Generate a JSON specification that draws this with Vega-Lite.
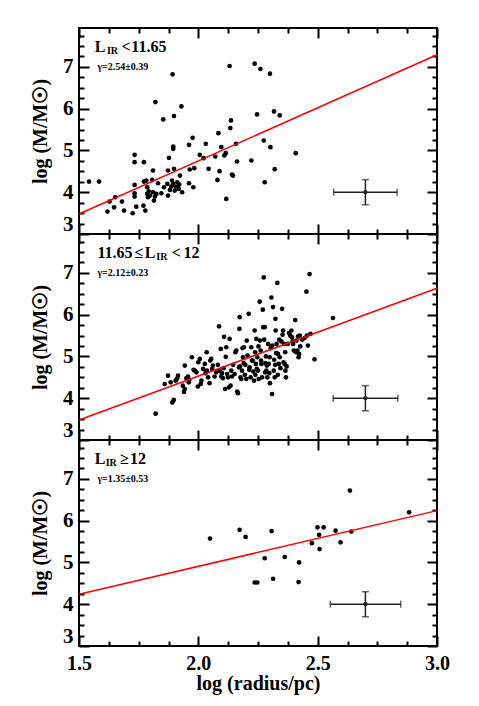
{
 "$schema": "https://vega.github.io/schema/vega-lite/v6.json",
 "padding": {"left": 29, "top": 26, "right": 5, "bottom": 5},
 "background": "white",
 "spacing": 0,
 "bounds": "flush",
 "config": {
   "view": {"stroke": "black", "strokeWidth": 2},
   "axis": {"domain": false, "grid": false, "tickColor": "black", "tickWidth": 2, "labelFont": "Liberation Serif", "labelFontWeight": "bold", "labelFontSize": 21, "labelColor": "black", "titleFont": "Liberation Serif", "titleFontWeight": "bold", "titleFontSize": 20, "titleColor": "black"},
   "axisTop": {"minExtent": 0, "maxExtent": 0},
   "axisRight": {"minExtent": 0, "maxExtent": 0},
   "text": {"font": "Liberation Serif", "fontWeight": "bold", "color": "black"}
 },
 "datasets": {
  "top_pts": [
   {"x":1.542,"y":4.255},{"x":1.584,"y":4.255},{"x":1.619,"y":3.536},{"x":1.628,"y":3.775},{"x":1.647,"y":3.639},{"x":1.652,"y":3.879},{"x":1.680,"y":3.775},{"x":1.689,"y":3.560},{"x":1.725,"y":3.496},{"x":1.740,"y":3.655},{"x":1.733,"y":4.894},{"x":1.733,"y":4.719},{"x":1.733,"y":4.175},{"x":1.733,"y":3.975},{"x":1.733,"y":3.895},{"x":1.770,"y":3.679},{"x":1.778,"y":3.560},{"x":1.772,"y":4.719},{"x":1.772,"y":4.255},{"x":1.782,"y":4.279},{"x":1.786,"y":4.119},{"x":1.786,"y":3.959},{"x":1.789,"y":3.879},{"x":1.792,"y":4.023},{"x":1.797,"y":3.919},{"x":1.810,"y":4.519},{"x":1.807,"y":4.295},{"x":1.810,"y":3.999},{"x":1.814,"y":3.799},{"x":1.818,"y":3.895},{"x":1.824,"y":3.959},{"x":1.820,"y":6.157},{"x":1.831,"y":4.215},{"x":1.845,"y":3.975},{"x":1.853,"y":5.742},{"x":1.856,"y":4.119},{"x":1.870,"y":4.199},{"x":1.873,"y":4.519},{"x":1.877,"y":4.823},{"x":1.873,"y":3.919},{"x":1.881,"y":4.055},{"x":1.887,"y":4.135},{"x":1.890,"y":4.279},{"x":1.892,"y":6.821},{"x":1.895,"y":5.038},{"x":1.895,"y":5.094},{"x":1.898,"y":4.559},{"x":1.898,"y":5.822},{"x":1.894,"y":4.199},{"x":1.901,"y":4.039},{"x":1.906,"y":4.135},{"x":1.912,"y":4.239},{"x":1.918,"y":4.079},{"x":1.920,"y":4.183},{"x":1.923,"y":4.399},{"x":1.929,"y":6.054},{"x":1.932,"y":3.999},{"x":1.961,"y":5.134},{"x":1.964,"y":4.543},{"x":1.961,"y":4.215},{"x":1.976,"y":5.302},{"x":1.979,"y":4.119},{"x":1.983,"y":4.575},{"x":2.006,"y":4.894},{"x":2.022,"y":4.815},{"x":2.031,"y":5.158},{"x":2.043,"y":4.559},{"x":2.071,"y":4.855},{"x":2.080,"y":4.295},{"x":2.084,"y":5.414},{"x":2.089,"y":4.503},{"x":2.096,"y":5.078},{"x":2.109,"y":4.878},{"x":2.115,"y":4.934},{"x":2.117,"y":3.839},{"x":2.131,"y":7.021},{"x":2.134,"y":5.534},{"x":2.137,"y":5.718},{"x":2.141,"y":4.423},{"x":2.145,"y":4.399},{"x":2.158,"y":5.158},{"x":2.162,"y":4.735},{"x":2.222,"y":4.759},{"x":2.236,"y":7.077},{"x":2.246,"y":5.862},{"x":2.260,"y":6.949},{"x":2.274,"y":5.238},{"x":2.278,"y":4.239},{"x":2.300,"y":6.837},{"x":2.302,"y":5.078},{"x":2.317,"y":5.934},{"x":2.320,"y":4.551},{"x":2.341,"y":5.838},{"x":2.408,"y":4.934}
  ],
  "mid_pts": [
   {"x":1.821,"y":3.63},{"x":1.859,"y":4.34},{"x":1.873,"y":4.54},{"x":1.884,"y":4.38},{"x":1.891,"y":3.90},{"x":1.897,"y":3.96},{"x":1.905,"y":4.42},{"x":1.911,"y":4.47},{"x":1.915,"y":4.54},{"x":1.935,"y":4.30},{"x":1.940,"y":4.15},{"x":1.943,"y":4.22},{"x":1.943,"y":4.78},{"x":1.950,"y":4.48},{"x":1.957,"y":4.52},{"x":1.960,"y":4.38},{"x":1.962,"y":4.44},{"x":1.973,"y":4.98},{"x":1.980,"y":4.68},{"x":1.985,"y":4.66},{"x":1.992,"y":4.62},{"x":1.998,"y":4.28},{"x":2.000,"y":4.86},{"x":2.006,"y":4.94},{"x":2.010,"y":4.34},{"x":2.013,"y":4.42},{"x":2.020,"y":4.70},{"x":2.027,"y":4.82},{"x":2.030,"y":4.60},{"x":2.035,"y":5.10},{"x":2.036,"y":4.66},{"x":2.041,"y":4.50},{"x":2.047,"y":4.36},{"x":2.050,"y":4.90},{"x":2.054,"y":4.94},{"x":2.058,"y":4.70},{"x":2.061,"y":4.78},{"x":2.068,"y":4.52},{"x":2.075,"y":4.62},{"x":2.082,"y":4.80},{"x":2.087,"y":5.72},{"x":2.090,"y":4.66},{"x":2.094,"y":5.18},{"x":2.096,"y":4.52},{"x":2.099,"y":4.60},{"x":2.103,"y":4.48},{"x":2.106,"y":4.72},{"x":2.108,"y":5.47},{"x":2.112,"y":4.22},{"x":2.115,"y":4.99},{"x":2.117,"y":5.22},{"x":2.121,"y":4.58},{"x":2.124,"y":4.50},{"x":2.128,"y":4.26},{"x":2.131,"y":5.42},{"x":2.135,"y":4.30},{"x":2.138,"y":4.66},{"x":2.141,"y":4.52},{"x":2.146,"y":4.80},{"x":2.152,"y":4.58},{"x":2.155,"y":5.10},{"x":2.159,"y":5.14},{"x":2.163,"y":4.16},{"x":2.166,"y":4.12},{"x":2.170,"y":4.74},{"x":2.172,"y":5.66},{"x":2.173,"y":5.94},{"x":2.175,"y":4.76},{"x":2.177,"y":4.50},{"x":2.180,"y":4.46},{"x":2.183,"y":4.66},{"x":2.185,"y":5.20},{"x":2.187,"y":4.98},{"x":2.190,"y":4.84},{"x":2.191,"y":5.22},{"x":2.195,"y":4.56},{"x":2.197,"y":4.80},{"x":2.201,"y":4.46},{"x":2.203,"y":5.38},{"x":2.206,"y":5.02},{"x":2.211,"y":6.02},{"x":2.213,"y":4.68},{"x":2.215,"y":4.74},{"x":2.219,"y":4.50},{"x":2.222,"y":5.22},{"x":2.225,"y":4.90},{"x":2.228,"y":4.90},{"x":2.230,"y":4.64},{"x":2.233,"y":4.42},{"x":2.236,"y":5.62},{"x":2.238,"y":5.10},{"x":2.239,"y":4.56},{"x":2.241,"y":4.82},{"x":2.243,"y":5.42},{"x":2.245,"y":4.70},{"x":2.247,"y":4.98},{"x":2.250,"y":4.66},{"x":2.252,"y":5.24},{"x":2.253,"y":4.46},{"x":2.257,"y":6.31},{"x":2.258,"y":5.38},{"x":2.261,"y":5.14},{"x":2.263,"y":4.90},{"x":2.264,"y":4.82},{"x":2.267,"y":4.50},{"x":2.270,"y":6.12},{"x":2.272,"y":5.70},{"x":2.274,"y":6.89},{"x":2.276,"y":5.40},{"x":2.278,"y":5.70},{"x":2.280,"y":4.62},{"x":2.281,"y":4.84},{"x":2.283,"y":5.00},{"x":2.285,"y":4.66},{"x":2.287,"y":4.78},{"x":2.289,"y":4.50},{"x":2.292,"y":5.30},{"x":2.295,"y":4.82},{"x":2.297,"y":4.60},{"x":2.299,"y":4.98},{"x":2.300,"y":4.36},{"x":2.303,"y":5.20},{"x":2.306,"y":6.41},{"x":2.309,"y":4.10},{"x":2.310,"y":5.26},{"x":2.313,"y":6.18},{"x":2.316,"y":4.66},{"x":2.318,"y":4.92},{"x":2.320,"y":4.50},{"x":2.322,"y":4.80},{"x":2.323,"y":5.90},{"x":2.324,"y":5.62},{"x":2.326,"y":5.08},{"x":2.328,"y":5.30},{"x":2.331,"y":6.76},{"x":2.333,"y":4.56},{"x":2.334,"y":5.06},{"x":2.337,"y":4.82},{"x":2.339,"y":5.40},{"x":2.341,"y":4.98},{"x":2.344,"y":4.72},{"x":2.348,"y":5.36},{"x":2.351,"y":6.14},{"x":2.353,"y":5.52},{"x":2.355,"y":5.62},{"x":2.357,"y":4.86},{"x":2.359,"y":5.30},{"x":2.362,"y":4.82},{"x":2.364,"y":5.10},{"x":2.365,"y":4.66},{"x":2.367,"y":4.50},{"x":2.370,"y":4.76},{"x":2.375,"y":5.30},{"x":2.380,"y":5.56},{"x":2.385,"y":5.50},{"x":2.390,"y":5.62},{"x":2.392,"y":5.46},{"x":2.395,"y":5.36},{"x":2.397,"y":5.30},{"x":2.400,"y":5.14},{"x":2.406,"y":5.87},{"x":2.410,"y":5.10},{"x":2.411,"y":5.38},{"x":2.415,"y":5.14},{"x":2.418,"y":5.48},{"x":2.420,"y":4.98},{"x":2.422,"y":5.06},{"x":2.425,"y":5.50},{"x":2.427,"y":5.24},{"x":2.435,"y":5.40},{"x":2.445,"y":5.44},{"x":2.453,"y":6.55},{"x":2.455,"y":5.50},{"x":2.459,"y":5.26},{"x":2.466,"y":6.97},{"x":2.470,"y":5.54},{"x":2.487,"y":4.93},{"x":2.564,"y":5.92}
  ],
  "bot_pts": [
   {"x":2.049,"y":5.57},{"x":2.173,"y":5.78},{"x":2.198,"y":5.61},{"x":2.236,"y":4.52},{"x":2.247,"y":4.52},{"x":2.278,"y":5.10},{"x":2.307,"y":5.75},{"x":2.313,"y":4.61},{"x":2.362,"y":5.13},{"x":2.422,"y":5.00},{"x":2.420,"y":4.53},{"x":2.476,"y":5.46},{"x":2.499,"y":5.84},{"x":2.506,"y":5.66},{"x":2.508,"y":5.32},{"x":2.525,"y":5.84},{"x":2.575,"y":5.76},{"x":2.596,"y":5.48},{"x":2.635,"y":6.72},{"x":2.641,"y":5.74},{"x":2.883,"y":6.20}
  ],
  "top_fit": [{"x":1.5,"y":3.48},{"x":3.0,"y":7.29}],
  "mid_fit": [{"x":1.5,"y":3.48},{"x":3.0,"y":6.63}],
  "bot_fit": [{"x":1.5,"y":4.24},{"x":3.0,"y":6.24}],
  "top_err": [{"x":2.7,"y":4.0,"xlo":2.567,"xhi":2.833,"ylo":3.7,"yhi":4.3}],
  "mid_err": [{"x":2.7,"y":4.0,"xlo":2.565,"xhi":2.836,"ylo":3.7,"yhi":4.3}],
  "bot_err": [{"x":2.7,"y":4.0,"xlo":2.553,"xhi":2.848,"ylo":3.7,"yhi":4.3}],
  "top_txt": [
   {"x":1.566,"y":7.36,"text":"L","kind":"main"},{"x":1.617,"y":7.31,"text":"IR","kind":"sub"},{"x":1.678,"y":7.36,"text":"<","kind":"main"},{"x":1.719,"y":7.36,"text":"11.65","kind":"main"},{"x":1.577,"y":6.92,"text":"γ=2.54±0.39","kind":"gamma"}
  ],
  "mid_txt": [
   {"x":1.577,"y":7.36,"text":"11.65","kind":"main"},{"x":1.733,"y":7.36,"text":"≤","kind":"main"},{"x":1.776,"y":7.36,"text":"L","kind":"main"},{"x":1.824,"y":7.31,"text":"IR","kind":"sub"},{"x":1.889,"y":7.36,"text":"<","kind":"main"},{"x":1.938,"y":7.36,"text":"12","kind":"main"},{"x":1.577,"y":6.92,"text":"γ=2.12±0.23","kind":"gamma"}
  ],
  "bot_txt": [
   {"x":1.566,"y":7.36,"text":"L","kind":"main"},{"x":1.612,"y":7.31,"text":"IR","kind":"sub"},{"x":1.672,"y":7.36,"text":"≥","kind":"main"},{"x":1.714,"y":7.36,"text":"12","kind":"main"},{"x":1.577,"y":6.92,"text":"γ=1.35±0.53","kind":"gamma"}
  ]
 },
 "vconcat": [
  {
   "width": 358, "height": 206,
   "resolve": {"axis": {"x": "independent", "y": "independent"}},
   "layer": [
    {"data": {"name": "top_pts"}, "mark": {"type": "circle", "size": 22, "opacity": 1, "color": "black"},
     "encoding": {
      "x": {"field": "x", "type": "quantitative", "scale": {"domain": [1.5, 3.0], "zero": false, "nice": false}, "axis": {"orient": "bottom", "values": [1.5, 2, 2.5, 3], "tickSize": -10, "labels": false, "title": null, "minExtent": 0, "maxExtent": 0}},
      "y": {"field": "y", "type": "quantitative", "scale": {"domain": [3, 7.93], "zero": false, "nice": false}, "axis": {"orient": "left", "values": [3, 4, 5, 6, 7], "format": "d", "tickSize": -10, "labelPadding": 16, "labelFlush": true, "title": "log (M/M☉)", "titlePadding": 12}}
     }},
    {"data": {"name": "top_fit"}, "mark": {"type": "line", "color": "red", "strokeWidth": 1.5},
     "encoding": {
      "x": {"field": "x", "type": "quantitative", "scale": {"domain": [1.5, 3.0], "zero": false, "nice": false}, "axis": {"orient": "bottom", "values": [1.625, 1.75, 1.875, 2.125, 2.25, 2.375, 2.625, 2.75, 2.875], "tickSize": -5, "labels": false, "title": null, "minExtent": 0, "maxExtent": 0}},
      "y": {"field": "y", "type": "quantitative", "scale": {"domain": [3, 7.93], "zero": false, "nice": false}, "axis": {"orient": "left", "values": [3.25, 3.5, 3.75, 4.25, 4.5, 4.75, 5.25, 5.5, 5.75, 6.25, 6.5, 6.75, 7.25, 7.5, 7.75], "tickSize": -5, "labels": false, "title": null, "minExtent": 0, "maxExtent": 0}}
     }},
    {"data": {"name": "top_err"}, "mark": {"type": "rule", "color": "#222222", "strokeWidth": 1.5},
     "encoding": {
      "x": {"field": "xlo", "type": "quantitative", "scale": {"domain": [1.5, 3.0], "zero": false, "nice": false}, "axis": {"orient": "top", "values": [1.5, 2, 2.5, 3], "tickSize": -10, "labels": false, "title": null}},
      "x2": {"field": "xhi"},
      "y": {"field": "y", "type": "quantitative", "scale": {"domain": [3, 7.93], "zero": false, "nice": false}, "axis": {"orient": "right", "values": [3, 4, 5, 6, 7], "tickSize": -10, "labels": false, "title": null}}
     }},
    {"data": {"name": "top_err"}, "mark": {"type": "rule", "color": "#222222", "strokeWidth": 1.5},
     "encoding": {
      "x": {"field": "x", "type": "quantitative", "scale": {"domain": [1.5, 3.0], "zero": false, "nice": false}, "axis": {"orient": "top", "values": [1.625, 1.75, 1.875, 2.125, 2.25, 2.375, 2.625, 2.75, 2.875], "tickSize": -5, "labels": false, "title": null}},
      "y": {"field": "ylo", "type": "quantitative", "scale": {"domain": [3, 7.93], "zero": false, "nice": false}, "axis": {"orient": "right", "values": [3.25, 3.5, 3.75, 4.25, 4.5, 4.75, 5.25, 5.5, 5.75, 6.25, 6.5, 6.75, 7.25, 7.5, 7.75], "tickSize": -5, "labels": false, "title": null}},
      "y2": {"field": "yhi"}
     }},
    {"data": {"name": "top_err"}, "mark": {"type": "tick", "orient": "vertical", "color": "#222222", "size": 7, "thickness": 1.5},
     "encoding": {"x": {"field": "xlo", "type": "quantitative", "axis": null}, "y": {"field": "y", "type": "quantitative", "axis": null}}},
    {"data": {"name": "top_err"}, "mark": {"type": "tick", "orient": "vertical", "color": "#222222", "size": 7, "thickness": 1.5},
     "encoding": {"x": {"field": "xhi", "type": "quantitative", "axis": null}, "y": {"field": "y", "type": "quantitative", "axis": null}}},
    {"data": {"name": "top_err"}, "mark": {"type": "tick", "orient": "horizontal", "color": "#222222", "size": 7, "thickness": 1.5},
     "encoding": {"x": {"field": "x", "type": "quantitative", "axis": null}, "y": {"field": "ylo", "type": "quantitative", "axis": null}}},
    {"data": {"name": "top_err"}, "mark": {"type": "tick", "orient": "horizontal", "color": "#222222", "size": 7, "thickness": 1.5},
     "encoding": {"x": {"field": "x", "type": "quantitative", "axis": null}, "y": {"field": "yhi", "type": "quantitative", "axis": null}}},
    {"data": {"name": "top_err"}, "mark": {"type": "circle", "size": 18, "opacity": 1, "color": "#222222"},
     "encoding": {"x": {"field": "x", "type": "quantitative", "axis": null}, "y": {"field": "y", "type": "quantitative", "axis": null}}},
    {"data": {"name": "top_txt"}, "transform": [{"filter": "datum.kind === 'main'"}], "mark": {"type": "text", "align": "left", "baseline": "alphabetic", "fontSize": 16},
     "encoding": {"x": {"field": "x", "type": "quantitative", "axis": null}, "y": {"field": "y", "type": "quantitative", "axis": null}, "text": {"field": "text"}}},
    {"data": {"name": "top_txt"}, "transform": [{"filter": "datum.kind !== 'main'"}], "mark": {"type": "text", "align": "left", "baseline": "alphabetic", "fontSize": 10},
     "encoding": {"x": {"field": "x", "type": "quantitative", "axis": null}, "y": {"field": "y", "type": "quantitative", "axis": null}, "text": {"field": "text"}}}
   ]
  },
  {
   "width": 358, "height": 206,
   "resolve": {"axis": {"x": "independent", "y": "independent"}},
   "layer": [
    {"data": {"name": "mid_pts"}, "mark": {"type": "circle", "size": 22, "opacity": 1, "color": "black"},
     "encoding": {
      "x": {"field": "x", "type": "quantitative", "scale": {"domain": [1.5, 3.0], "zero": false, "nice": false}, "axis": {"orient": "bottom", "values": [1.5, 2, 2.5, 3], "tickSize": -10, "labels": false, "title": null, "minExtent": 0, "maxExtent": 0}},
      "y": {"field": "y", "type": "quantitative", "scale": {"domain": [3, 7.93], "zero": false, "nice": false}, "axis": {"orient": "left", "values": [3, 4, 5, 6, 7], "format": "d", "tickSize": -10, "labelPadding": 16, "labelFlush": true, "title": "log (M/M☉)", "titlePadding": 12}}
     }},
    {"data": {"name": "mid_fit"}, "mark": {"type": "line", "color": "red", "strokeWidth": 1.5},
     "encoding": {
      "x": {"field": "x", "type": "quantitative", "scale": {"domain": [1.5, 3.0], "zero": false, "nice": false}, "axis": {"orient": "bottom", "values": [1.625, 1.75, 1.875, 2.125, 2.25, 2.375, 2.625, 2.75, 2.875], "tickSize": -5, "labels": false, "title": null, "minExtent": 0, "maxExtent": 0}},
      "y": {"field": "y", "type": "quantitative", "scale": {"domain": [3, 7.93], "zero": false, "nice": false}, "axis": {"orient": "left", "values": [3.25, 3.5, 3.75, 4.25, 4.5, 4.75, 5.25, 5.5, 5.75, 6.25, 6.5, 6.75, 7.25, 7.5, 7.75], "tickSize": -5, "labels": false, "title": null, "minExtent": 0, "maxExtent": 0}}
     }},
    {"data": {"name": "mid_err"}, "mark": {"type": "rule", "color": "#222222", "strokeWidth": 1.5},
     "encoding": {
      "x": {"field": "xlo", "type": "quantitative", "scale": {"domain": [1.5, 3.0], "zero": false, "nice": false}, "axis": {"orient": "top", "values": [1.5, 2, 2.5, 3], "tickSize": -10, "labels": false, "title": null}},
      "x2": {"field": "xhi"},
      "y": {"field": "y", "type": "quantitative", "scale": {"domain": [3, 7.93], "zero": false, "nice": false}, "axis": {"orient": "right", "values": [3, 4, 5, 6, 7], "tickSize": -10, "labels": false, "title": null}}
     }},
    {"data": {"name": "mid_err"}, "mark": {"type": "rule", "color": "#222222", "strokeWidth": 1.5},
     "encoding": {
      "x": {"field": "x", "type": "quantitative", "scale": {"domain": [1.5, 3.0], "zero": false, "nice": false}, "axis": {"orient": "top", "values": [1.625, 1.75, 1.875, 2.125, 2.25, 2.375, 2.625, 2.75, 2.875], "tickSize": -5, "labels": false, "title": null}},
      "y": {"field": "ylo", "type": "quantitative", "scale": {"domain": [3, 7.93], "zero": false, "nice": false}, "axis": {"orient": "right", "values": [3.25, 3.5, 3.75, 4.25, 4.5, 4.75, 5.25, 5.5, 5.75, 6.25, 6.5, 6.75, 7.25, 7.5, 7.75], "tickSize": -5, "labels": false, "title": null}},
      "y2": {"field": "yhi"}
     }},
    {"data": {"name": "mid_err"}, "mark": {"type": "tick", "orient": "vertical", "color": "#222222", "size": 7, "thickness": 1.5},
     "encoding": {"x": {"field": "xlo", "type": "quantitative", "axis": null}, "y": {"field": "y", "type": "quantitative", "axis": null}}},
    {"data": {"name": "mid_err"}, "mark": {"type": "tick", "orient": "vertical", "color": "#222222", "size": 7, "thickness": 1.5},
     "encoding": {"x": {"field": "xhi", "type": "quantitative", "axis": null}, "y": {"field": "y", "type": "quantitative", "axis": null}}},
    {"data": {"name": "mid_err"}, "mark": {"type": "tick", "orient": "horizontal", "color": "#222222", "size": 7, "thickness": 1.5},
     "encoding": {"x": {"field": "x", "type": "quantitative", "axis": null}, "y": {"field": "ylo", "type": "quantitative", "axis": null}}},
    {"data": {"name": "mid_err"}, "mark": {"type": "tick", "orient": "horizontal", "color": "#222222", "size": 7, "thickness": 1.5},
     "encoding": {"x": {"field": "x", "type": "quantitative", "axis": null}, "y": {"field": "yhi", "type": "quantitative", "axis": null}}},
    {"data": {"name": "mid_err"}, "mark": {"type": "circle", "size": 18, "opacity": 1, "color": "#222222"},
     "encoding": {"x": {"field": "x", "type": "quantitative", "axis": null}, "y": {"field": "y", "type": "quantitative", "axis": null}}},
    {"data": {"name": "mid_txt"}, "transform": [{"filter": "datum.kind === 'main'"}], "mark": {"type": "text", "align": "left", "baseline": "alphabetic", "fontSize": 16},
     "encoding": {"x": {"field": "x", "type": "quantitative", "axis": null}, "y": {"field": "y", "type": "quantitative", "axis": null}, "text": {"field": "text"}}},
    {"data": {"name": "mid_txt"}, "transform": [{"filter": "datum.kind !== 'main'"}], "mark": {"type": "text", "align": "left", "baseline": "alphabetic", "fontSize": 10},
     "encoding": {"x": {"field": "x", "type": "quantitative", "axis": null}, "y": {"field": "y", "type": "quantitative", "axis": null}, "text": {"field": "text"}}}
   ]
  },
  {
   "width": 358, "height": 206,
   "resolve": {"axis": {"x": "independent", "y": "independent"}},
   "layer": [
    {"data": {"name": "bot_pts"}, "mark": {"type": "circle", "size": 22, "opacity": 1, "color": "black"},
     "encoding": {
      "x": {"field": "x", "type": "quantitative", "scale": {"domain": [1.5, 3.0], "zero": false, "nice": false}, "axis": {"orient": "bottom", "values": [1.5, 2, 2.5, 3], "format": ".1f", "tickSize": -10, "labelPadding": 17, "labelFontSize": 20, "labelFlush": false, "title": "log (radius/pc)", "titlePadding": 0}},
      "y": {"field": "y", "type": "quantitative", "scale": {"domain": [3, 7.93], "zero": false, "nice": false}, "axis": {"orient": "left", "values": [3, 4, 5, 6, 7], "format": "d", "tickSize": -10, "labelPadding": 16, "labelFlush": true, "title": "log (M/M☉)", "titlePadding": 12}}
     }},
    {"data": {"name": "bot_fit"}, "mark": {"type": "line", "color": "red", "strokeWidth": 1.5},
     "encoding": {
      "x": {"field": "x", "type": "quantitative", "scale": {"domain": [1.5, 3.0], "zero": false, "nice": false}, "axis": {"orient": "bottom", "values": [1.625, 1.75, 1.875, 2.125, 2.25, 2.375, 2.625, 2.75, 2.875], "tickSize": -5, "labels": false, "title": null, "minExtent": 0, "maxExtent": 0}},
      "y": {"field": "y", "type": "quantitative", "scale": {"domain": [3, 7.93], "zero": false, "nice": false}, "axis": {"orient": "left", "values": [3.25, 3.5, 3.75, 4.25, 4.5, 4.75, 5.25, 5.5, 5.75, 6.25, 6.5, 6.75, 7.25, 7.5, 7.75], "tickSize": -5, "labels": false, "title": null, "minExtent": 0, "maxExtent": 0}}
     }},
    {"data": {"name": "bot_err"}, "mark": {"type": "rule", "color": "#222222", "strokeWidth": 1.5},
     "encoding": {
      "x": {"field": "xlo", "type": "quantitative", "scale": {"domain": [1.5, 3.0], "zero": false, "nice": false}, "axis": {"orient": "top", "values": [1.5, 2, 2.5, 3], "tickSize": -10, "labels": false, "title": null}},
      "x2": {"field": "xhi"},
      "y": {"field": "y", "type": "quantitative", "scale": {"domain": [3, 7.93], "zero": false, "nice": false}, "axis": {"orient": "right", "values": [3, 4, 5, 6, 7], "tickSize": -10, "labels": false, "title": null}}
     }},
    {"data": {"name": "bot_err"}, "mark": {"type": "rule", "color": "#222222", "strokeWidth": 1.5},
     "encoding": {
      "x": {"field": "x", "type": "quantitative", "scale": {"domain": [1.5, 3.0], "zero": false, "nice": false}, "axis": {"orient": "top", "values": [1.625, 1.75, 1.875, 2.125, 2.25, 2.375, 2.625, 2.75, 2.875], "tickSize": -5, "labels": false, "title": null}},
      "y": {"field": "ylo", "type": "quantitative", "scale": {"domain": [3, 7.93], "zero": false, "nice": false}, "axis": {"orient": "right", "values": [3.25, 3.5, 3.75, 4.25, 4.5, 4.75, 5.25, 5.5, 5.75, 6.25, 6.5, 6.75, 7.25, 7.5, 7.75], "tickSize": -5, "labels": false, "title": null}},
      "y2": {"field": "yhi"}
     }},
    {"data": {"name": "bot_err"}, "mark": {"type": "tick", "orient": "vertical", "color": "#222222", "size": 7, "thickness": 1.5},
     "encoding": {"x": {"field": "xlo", "type": "quantitative", "axis": null}, "y": {"field": "y", "type": "quantitative", "axis": null}}},
    {"data": {"name": "bot_err"}, "mark": {"type": "tick", "orient": "vertical", "color": "#222222", "size": 7, "thickness": 1.5},
     "encoding": {"x": {"field": "xhi", "type": "quantitative", "axis": null}, "y": {"field": "y", "type": "quantitative", "axis": null}}},
    {"data": {"name": "bot_err"}, "mark": {"type": "tick", "orient": "horizontal", "color": "#222222", "size": 7, "thickness": 1.5},
     "encoding": {"x": {"field": "x", "type": "quantitative", "axis": null}, "y": {"field": "ylo", "type": "quantitative", "axis": null}}},
    {"data": {"name": "bot_err"}, "mark": {"type": "tick", "orient": "horizontal", "color": "#222222", "size": 7, "thickness": 1.5},
     "encoding": {"x": {"field": "x", "type": "quantitative", "axis": null}, "y": {"field": "yhi", "type": "quantitative", "axis": null}}},
    {"data": {"name": "bot_err"}, "mark": {"type": "circle", "size": 18, "opacity": 1, "color": "#222222"},
     "encoding": {"x": {"field": "x", "type": "quantitative", "axis": null}, "y": {"field": "y", "type": "quantitative", "axis": null}}},
    {"data": {"name": "bot_txt"}, "transform": [{"filter": "datum.kind === 'main'"}], "mark": {"type": "text", "align": "left", "baseline": "alphabetic", "fontSize": 16},
     "encoding": {"x": {"field": "x", "type": "quantitative", "axis": null}, "y": {"field": "y", "type": "quantitative", "axis": null}, "text": {"field": "text"}}},
    {"data": {"name": "bot_txt"}, "transform": [{"filter": "datum.kind !== 'main'"}], "mark": {"type": "text", "align": "left", "baseline": "alphabetic", "fontSize": 10},
     "encoding": {"x": {"field": "x", "type": "quantitative", "axis": null}, "y": {"field": "y", "type": "quantitative", "axis": null}, "text": {"field": "text"}}}
   ]
  }
 ]
}
